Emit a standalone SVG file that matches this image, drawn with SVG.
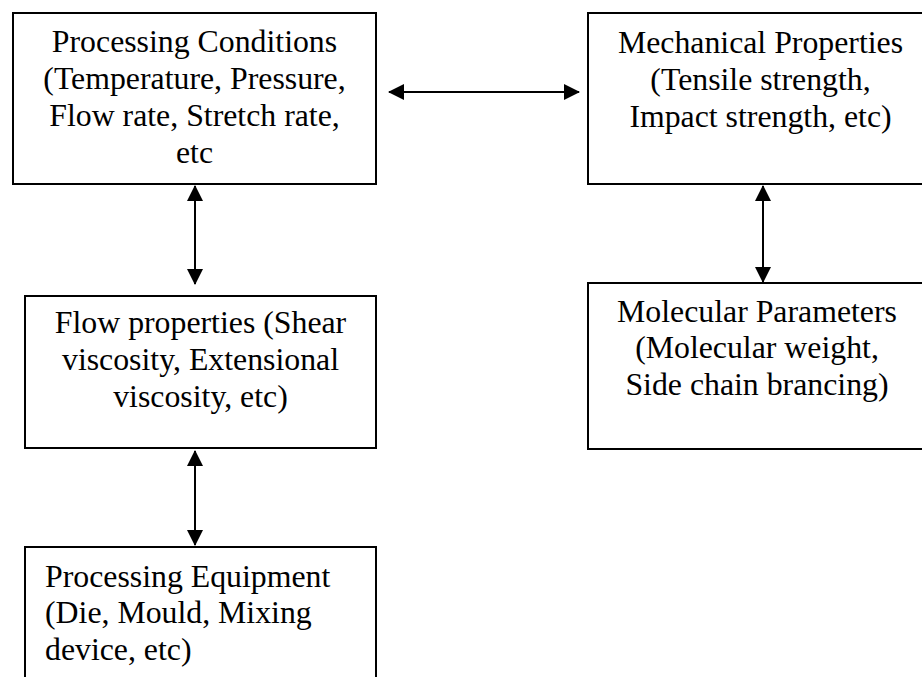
<svg xmlns="http://www.w3.org/2000/svg" width="922" height="677" viewBox="0 0 922 677">
<style>
.box{fill:#fff;stroke:#000;stroke-width:2}
.t{font-family:"Liberation Serif","Times New Roman",serif;font-size:31.8px;fill:#000}
.c{text-anchor:middle}
.con{stroke:#000;stroke-width:2;fill:none;marker-start:url(#ah);marker-end:url(#ah)}
</style>
<defs>
<marker id="ah" viewBox="0 0 16 16" refX="15" refY="8" markerWidth="16" markerHeight="16" markerUnits="userSpaceOnUse" orient="auto-start-reverse">
<path d="M0,0 L16,8 L0,16 Z" fill="#000"/>
</marker>
</defs>
<rect width="922" height="677" fill="#fff"/>
<g id="processing-conditions">
<rect class="box" x="13" y="13" width="363" height="171"/>
<text class="t c" x="194.5" y="52">Processing Conditions</text>
<text class="t c" x="194.5" y="89">(Temperature, Pressure,</text>
<text class="t c" x="194.5" y="126">Flow rate, Stretch rate,</text>
<text class="t c" x="194.5" y="163">etc</text>
</g>
<g id="mechanical-properties">
<rect class="box" x="588" y="13" width="346" height="171"/>
<text class="t c" x="760.5" y="53">Mechanical Properties</text>
<text class="t c" x="760.5" y="90">(Tensile strength,</text>
<text class="t c" x="760.5" y="127">Impact strength, etc)</text>
</g>
<g id="flow-properties">
<rect class="box" x="25" y="296" width="351" height="152"/>
<text class="t c" x="200.5" y="333">Flow properties (Shear</text>
<text class="t c" x="200.5" y="370">viscosity, Extensional</text>
<text class="t c" x="200.5" y="407">viscosity, etc)</text>
</g>
<g id="molecular-parameters">
<rect class="box" x="588" y="283" width="338" height="166"/>
<text class="t c" x="757" y="322">Molecular Parameters</text>
<text class="t c" x="757" y="358">(Molecular weight,</text>
<text class="t c" x="757" y="395">Side chain brancing)</text>
</g>
<g id="processing-equipment">
<rect class="box" x="25" y="547" width="351" height="140"/>
<text class="t" x="45" y="587">Processing Equipment</text>
<text class="t" x="45" y="623">(Die, Mould, Mixing</text>
<text class="t" x="45" y="660">device, etc)</text>
</g>
<g id="connectors">
<line class="con" x1="389" y1="92" x2="579" y2="92"/>
<line class="con" x1="195" y1="186" x2="195" y2="284"/>
<line class="con" x1="763" y1="186" x2="763" y2="282"/>
<line class="con" x1="195" y1="451" x2="195" y2="545"/>
</g>
</svg>
